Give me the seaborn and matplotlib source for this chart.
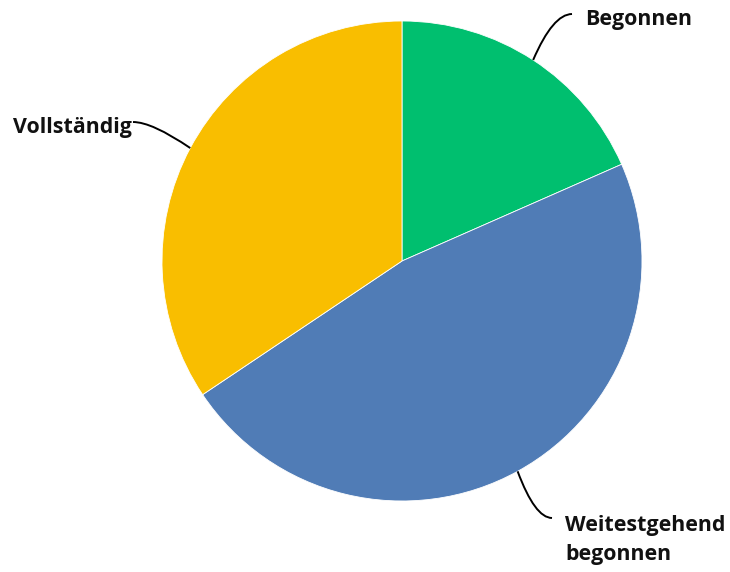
import numpy as np
import matplotlib
matplotlib.use("Agg")
import matplotlib.pyplot as plt
from matplotlib.path import Path
from matplotlib.patches import PathPatch
import seaborn as sns

categories = ["Begonnen", "Weitestgehend\nbegonnen", "Vollständig"]
values = [18.4, 47.2, 34.4]
colors = ["#00BF6F", "#507CB6", "#F9BE00"]

sns.set_theme(style="white")
plt.rcParams["font.family"] = ["Open Sans", "DejaVu Sans"]

W, H = 730, 572
fig = plt.figure(figsize=(W / 100, H / 100), dpi=100)
ax = fig.add_axes([0, 0, 1, 1])
cx, cy, R = 402, 261, 240

wedges, _ = ax.pie(values, colors=colors, startangle=90, counterclock=False,
                   radius=1, center=(0, 0), frame=True,
                   wedgeprops=dict(edgecolor="white", linewidth=0.6))
ax.set_xlim(-cx / R, (W - cx) / R)
ax.set_ylim(-(H - cy) / R, cy / R)
ax.set_aspect("auto")
ax.axis("off")

def px(x, y):
    return ((x - cx) / R, (cy - y) / R)

layout = [
    dict(end=(572, 14), ctrl=(553, 14), text=(585, 20), ha="left"),
    dict(end=(552, 518), ctrl=(535, 518), text=(565, 540), ha="left"),
    dict(end=(133, 122), ctrl=(152, 122), text=(132, 128), ha="right"),
]

for w, lab, lo in zip(wedges, categories, layout):
    mid = np.deg2rad((w.theta1 + w.theta2) / 2)
    start = (np.cos(mid), np.sin(mid))
    path = Path([start, px(*lo["ctrl"]), px(*lo["end"])],
                [Path.MOVETO, Path.CURVE3, Path.CURVE3])
    ax.add_patch(PathPatch(path, facecolor="none", edgecolor="black", lw=1.4))
    tx, ty = px(*lo["text"])
    ax.text(tx, ty, lab, ha=lo["ha"], va="center", fontsize=15.4,
            fontweight="bold", color="#111111", linespacing=1.5)

fig.savefig("out.png", dpi=100)
